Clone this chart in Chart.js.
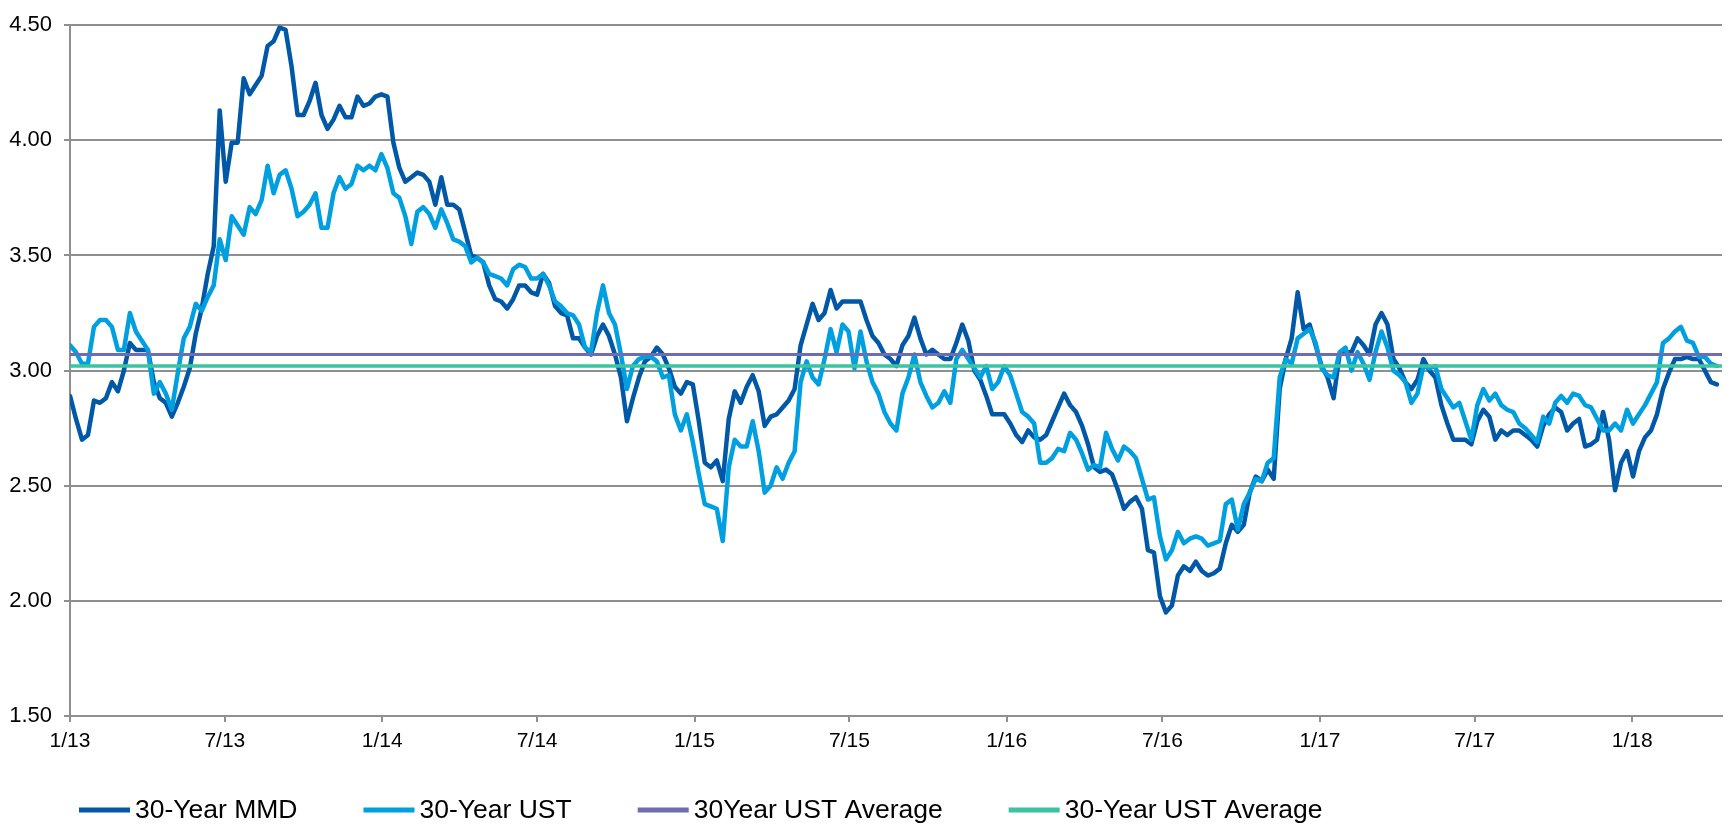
<!DOCTYPE html>
<html>
<head>
<meta charset="utf-8">
<script src="https://cdn.jsdelivr.net/npm/chart.js@4.4.0/dist/chart.umd.min.js"></script>
<style>
  html, body { margin: 0; padding: 0; background: #ffffff; overflow: hidden; }
  canvas { display: block; }
</style>
</head>
<body>
<canvas id="chart" width="1731" height="826"></canvas>
<script>
// Weekly observations starting 1 Jan 2013
const startDate = '2013-01-01';
const stepDays = 7;
const axisEndDate = '2018-04-16';

const seriesNames = ['30-Year MMD', '30-Year UST', '30Year UST Average', '30-Year UST Average'];

const mmd30 = [
  2.89, 2.79, 2.70, 2.72, 2.87, 2.86, 2.88, 2.95, 2.91, 3.00,
  3.12, 3.09, 3.09, 3.09, 2.95, 2.88, 2.86, 2.80, 2.86, 2.93,
  3.01, 3.16, 3.27, 3.42, 3.54, 4.13, 3.82, 3.99, 3.99, 4.27,
  4.20, 4.24, 4.28, 4.41, 4.43, 4.49, 4.48, 4.32, 4.11, 4.11,
  4.17, 4.25, 4.11, 4.05, 4.09, 4.15, 4.10, 4.10, 4.19, 4.15,
  4.16, 4.19, 4.20, 4.19, 3.99, 3.88, 3.82, 3.84, 3.86, 3.85,
  3.82, 3.72, 3.84, 3.72, 3.72, 3.70, 3.60, 3.50, 3.49, 3.47,
  3.37, 3.31, 3.30, 3.27, 3.31, 3.37, 3.37, 3.34, 3.33, 3.42,
  3.38, 3.28, 3.25, 3.24, 3.14, 3.14, 3.10, 3.07, 3.15, 3.20,
  3.15, 3.07, 2.97, 2.78, 2.88, 2.97, 3.04, 3.06, 3.10, 3.07,
  3.01, 2.93, 2.90, 2.95, 2.94, 2.78, 2.60, 2.58, 2.61, 2.52,
  2.79, 2.91, 2.86, 2.93, 2.98, 2.91, 2.76, 2.80, 2.81, 2.84,
  2.87, 2.92, 3.11, 3.20, 3.29, 3.22, 3.25, 3.35, 3.27, 3.30,
  3.30, 3.30, 3.30, 3.22, 3.15, 3.12, 3.07, 3.05, 3.02, 3.11,
  3.15, 3.23, 3.14, 3.07, 3.09, 3.07, 3.05, 3.05, 3.12, 3.20,
  3.13, 3.00, 2.96, 2.89, 2.81, 2.81, 2.81, 2.77, 2.72, 2.69,
  2.74, 2.71, 2.70, 2.72, 2.78, 2.84, 2.90, 2.85, 2.82, 2.76,
  2.68, 2.58, 2.56, 2.57, 2.55, 2.48, 2.40, 2.43, 2.45, 2.40,
  2.22, 2.21, 2.02, 1.95, 1.98, 2.11, 2.15, 2.13, 2.17, 2.13,
  2.11, 2.12, 2.14, 2.25, 2.33, 2.30, 2.33, 2.47, 2.54, 2.52,
  2.57, 2.53, 2.92, 3.05, 3.14, 3.34, 3.18, 3.20, 3.11, 3.02,
  2.97, 2.88, 3.07, 3.08, 3.08, 3.14, 3.11, 3.07, 3.20, 3.25,
  3.20, 3.05, 3.01, 2.95, 2.92, 2.96, 3.05, 3.00, 2.97, 2.85,
  2.77, 2.70, 2.70, 2.70, 2.68, 2.78, 2.83, 2.80, 2.70, 2.74,
  2.72, 2.74, 2.74, 2.72, 2.70, 2.67, 2.76, 2.81, 2.84, 2.82,
  2.74, 2.77, 2.79, 2.67, 2.68, 2.70, 2.82, 2.70, 2.48, 2.60,
  2.65, 2.54, 2.65, 2.71, 2.74, 2.81, 2.92, 2.99, 3.05, 3.05,
  3.06, 3.05, 3.05, 3.00, 2.95, 2.94
];

const ust30 = [
  3.11, 3.08, 3.03, 3.03, 3.19, 3.22, 3.22, 3.19, 3.09, 3.09,
  3.25, 3.17, 3.13, 3.09, 2.90, 2.95, 2.90, 2.83, 2.99, 3.14,
  3.19, 3.29, 3.26, 3.32, 3.37, 3.57, 3.48, 3.67, 3.63, 3.59,
  3.71, 3.68, 3.74, 3.89, 3.77, 3.85, 3.87, 3.79, 3.67, 3.69,
  3.72, 3.77, 3.62, 3.62, 3.77, 3.84, 3.79, 3.81, 3.89, 3.87,
  3.89, 3.87, 3.94, 3.88, 3.77, 3.75, 3.67, 3.55, 3.69, 3.71,
  3.68, 3.62, 3.70, 3.64, 3.57, 3.56, 3.54, 3.47, 3.49, 3.47,
  3.42, 3.41, 3.40, 3.37, 3.44, 3.46, 3.45, 3.40, 3.40, 3.42,
  3.37, 3.30, 3.28, 3.25, 3.24, 3.20, 3.10, 3.08, 3.25, 3.37,
  3.25, 3.20, 3.07, 2.92, 3.02, 3.05, 3.06, 3.06, 3.04, 2.97,
  2.98, 2.81, 2.74, 2.81, 2.69, 2.55, 2.42, 2.41, 2.40, 2.26,
  2.58, 2.70, 2.67, 2.67, 2.78, 2.65, 2.47, 2.50, 2.58, 2.53,
  2.60, 2.65, 2.95, 3.04, 2.97, 2.94, 3.05, 3.18, 3.08, 3.20,
  3.17, 3.01, 3.17, 3.04, 2.95, 2.90, 2.82, 2.77, 2.74, 2.90,
  2.97, 3.07, 2.95, 2.89, 2.84, 2.86, 2.91, 2.86, 3.05, 3.09,
  3.05, 3.01, 2.97, 3.02, 2.92, 2.95, 3.02, 2.98, 2.90, 2.82,
  2.80, 2.77, 2.60, 2.60, 2.62, 2.66, 2.65, 2.73, 2.70, 2.64,
  2.57, 2.59, 2.58, 2.73, 2.66, 2.61, 2.67, 2.65, 2.62, 2.53,
  2.44, 2.45, 2.28, 2.18, 2.22, 2.30, 2.25, 2.27, 2.28, 2.27,
  2.24, 2.25, 2.26, 2.42, 2.44, 2.31, 2.42, 2.47, 2.53, 2.52,
  2.60, 2.62, 2.97, 3.05, 3.03, 3.14, 3.16, 3.18, 3.12, 3.01,
  2.98, 2.97, 3.08, 3.10, 3.00, 3.08, 3.03, 2.96, 3.08, 3.17,
  3.10, 3.00, 2.98, 2.95, 2.86, 2.90, 3.02, 3.01, 3.02, 2.92,
  2.88, 2.84, 2.86, 2.78, 2.70, 2.85, 2.92, 2.87, 2.90, 2.85,
  2.83, 2.82, 2.77, 2.75, 2.72, 2.69, 2.80, 2.77, 2.86, 2.89,
  2.86, 2.90, 2.89, 2.85, 2.84, 2.79, 2.74, 2.74, 2.77, 2.74,
  2.83, 2.77, 2.81, 2.85, 2.90, 2.95, 3.12, 3.14, 3.17, 3.19,
  3.13, 3.12, 3.06, 3.06, 3.03, 3.02
];

// Period averages drawn as flat reference lines
const ustAverageA = 3.07;
const ustAverageB = 3.02;

const tickDates = ['2013-01-01', '2013-07-01', '2014-01-01', '2014-07-01', '2015-01-01', '2015-07-01',
                   '2016-01-01', '2016-07-01', '2017-01-01', '2017-07-01', '2018-01-01'];
const tickLabels = ['1/13', '7/13', '1/14', '7/14', '1/15', '7/15', '1/16', '7/16', '1/17', '7/17', '1/18'];

const colors = ['#0058a7', '#00a0e0', '#6d6cb5', '#3bc3a2'];
const gridColor = '#8f8f8f';
const fontFamily = '"Liberation Sans", Arial, sans-serif';

const DAY_MS = 86400000;
const dayOf = d => (Date.parse(d) - Date.parse(startDate)) / DAY_MS;
const toPoints = arr => arr.map((v, i) => ({ x: i * stepDays, y: v }));
const endDay = dayOf(axisEndDate);
const flat = v => [{ x: 0, y: v }, { x: endDay, y: v }];

// Legend drawn below the axis, items laid out left to right
const bottomLegend = {
  id: 'bottomLegend',
  afterDraw(chart) {
    const ctx = chart.ctx;
    ctx.save();
    ctx.font = '26.5px ' + fontFamily;
    ctx.textBaseline = 'middle';
    ctx.textAlign = 'left';
    let x = 79;
    const y = 810;
    chart.data.datasets.forEach(ds => {
      ctx.strokeStyle = ds.borderColor;
      ctx.lineWidth = 5;
      ctx.lineCap = 'butt';
      ctx.beginPath();
      ctx.moveTo(x, y);
      ctx.lineTo(x + 51, y);
      ctx.stroke();
      ctx.fillStyle = '#000000';
      ctx.fillText(ds.label, x + 56, y + 1);
      x += 56 + ctx.measureText(ds.label).width + 66;
    });
    ctx.restore();
  }
};

new Chart(document.getElementById('chart'), {
  type: 'line',
  data: {
    datasets: [
      { label: seriesNames[0], data: toPoints(mmd30), borderColor: colors[0], borderWidth: 4.5, order: 3 },
      { label: seriesNames[1], data: toPoints(ust30), borderColor: colors[1], borderWidth: 4.5, order: 2 },
      { label: seriesNames[2], data: flat(ustAverageA), borderColor: colors[2], borderWidth: 3, order: 1 },
      { label: seriesNames[3], data: flat(ustAverageB), borderColor: colors[3], borderWidth: 3.5, order: 0 }
    ]
  },
  options: {
    responsive: false,
    devicePixelRatio: 1,
    animation: false,
    elements: {
      point: { radius: 0, hoverRadius: 0 },
      line: { tension: 0, fill: false, borderJoinStyle: 'round', borderCapStyle: 'round' }
    },
    layout: { padding: { left: 0, right: 9, top: 16, bottom: 66 } },
    plugins: {
      legend: { display: false },
      tooltip: { enabled: false }
    },
    scales: {
      x: {
        type: 'linear',
        min: 0,
        max: endDay,
        afterBuildTicks: s => { s.ticks = tickDates.map(d => ({ value: dayOf(d) })); },
        afterFit: s => { s.height = 44; },
        ticks: {
          autoSkip: false,
          maxRotation: 0,
          padding: 7,
          color: '#000000',
          font: { family: fontFamily, size: 21 },
          callback: (v, i) => tickLabels[i]
        },
        grid: { drawOnChartArea: false, drawTicks: true, tickLength: 6, color: gridColor, lineWidth: 2 },
        border: { display: true, color: gridColor, width: 2 }
      },
      y: {
        min: 1.5,
        max: 4.5,
        afterFit: s => { s.width = 70; },
        ticks: {
          stepSize: 0.5,
          padding: 12,
          color: '#000000',
          font: { family: fontFamily, size: 22 },
          callback: v => v.toFixed(2)
        },
        grid: { color: gridColor, lineWidth: 2, tickLength: 6 },
        border: { display: true, color: gridColor, width: 2 }
      }
    }
  },
  plugins: [bottomLegend]
});
</script>
</body>
</html>
